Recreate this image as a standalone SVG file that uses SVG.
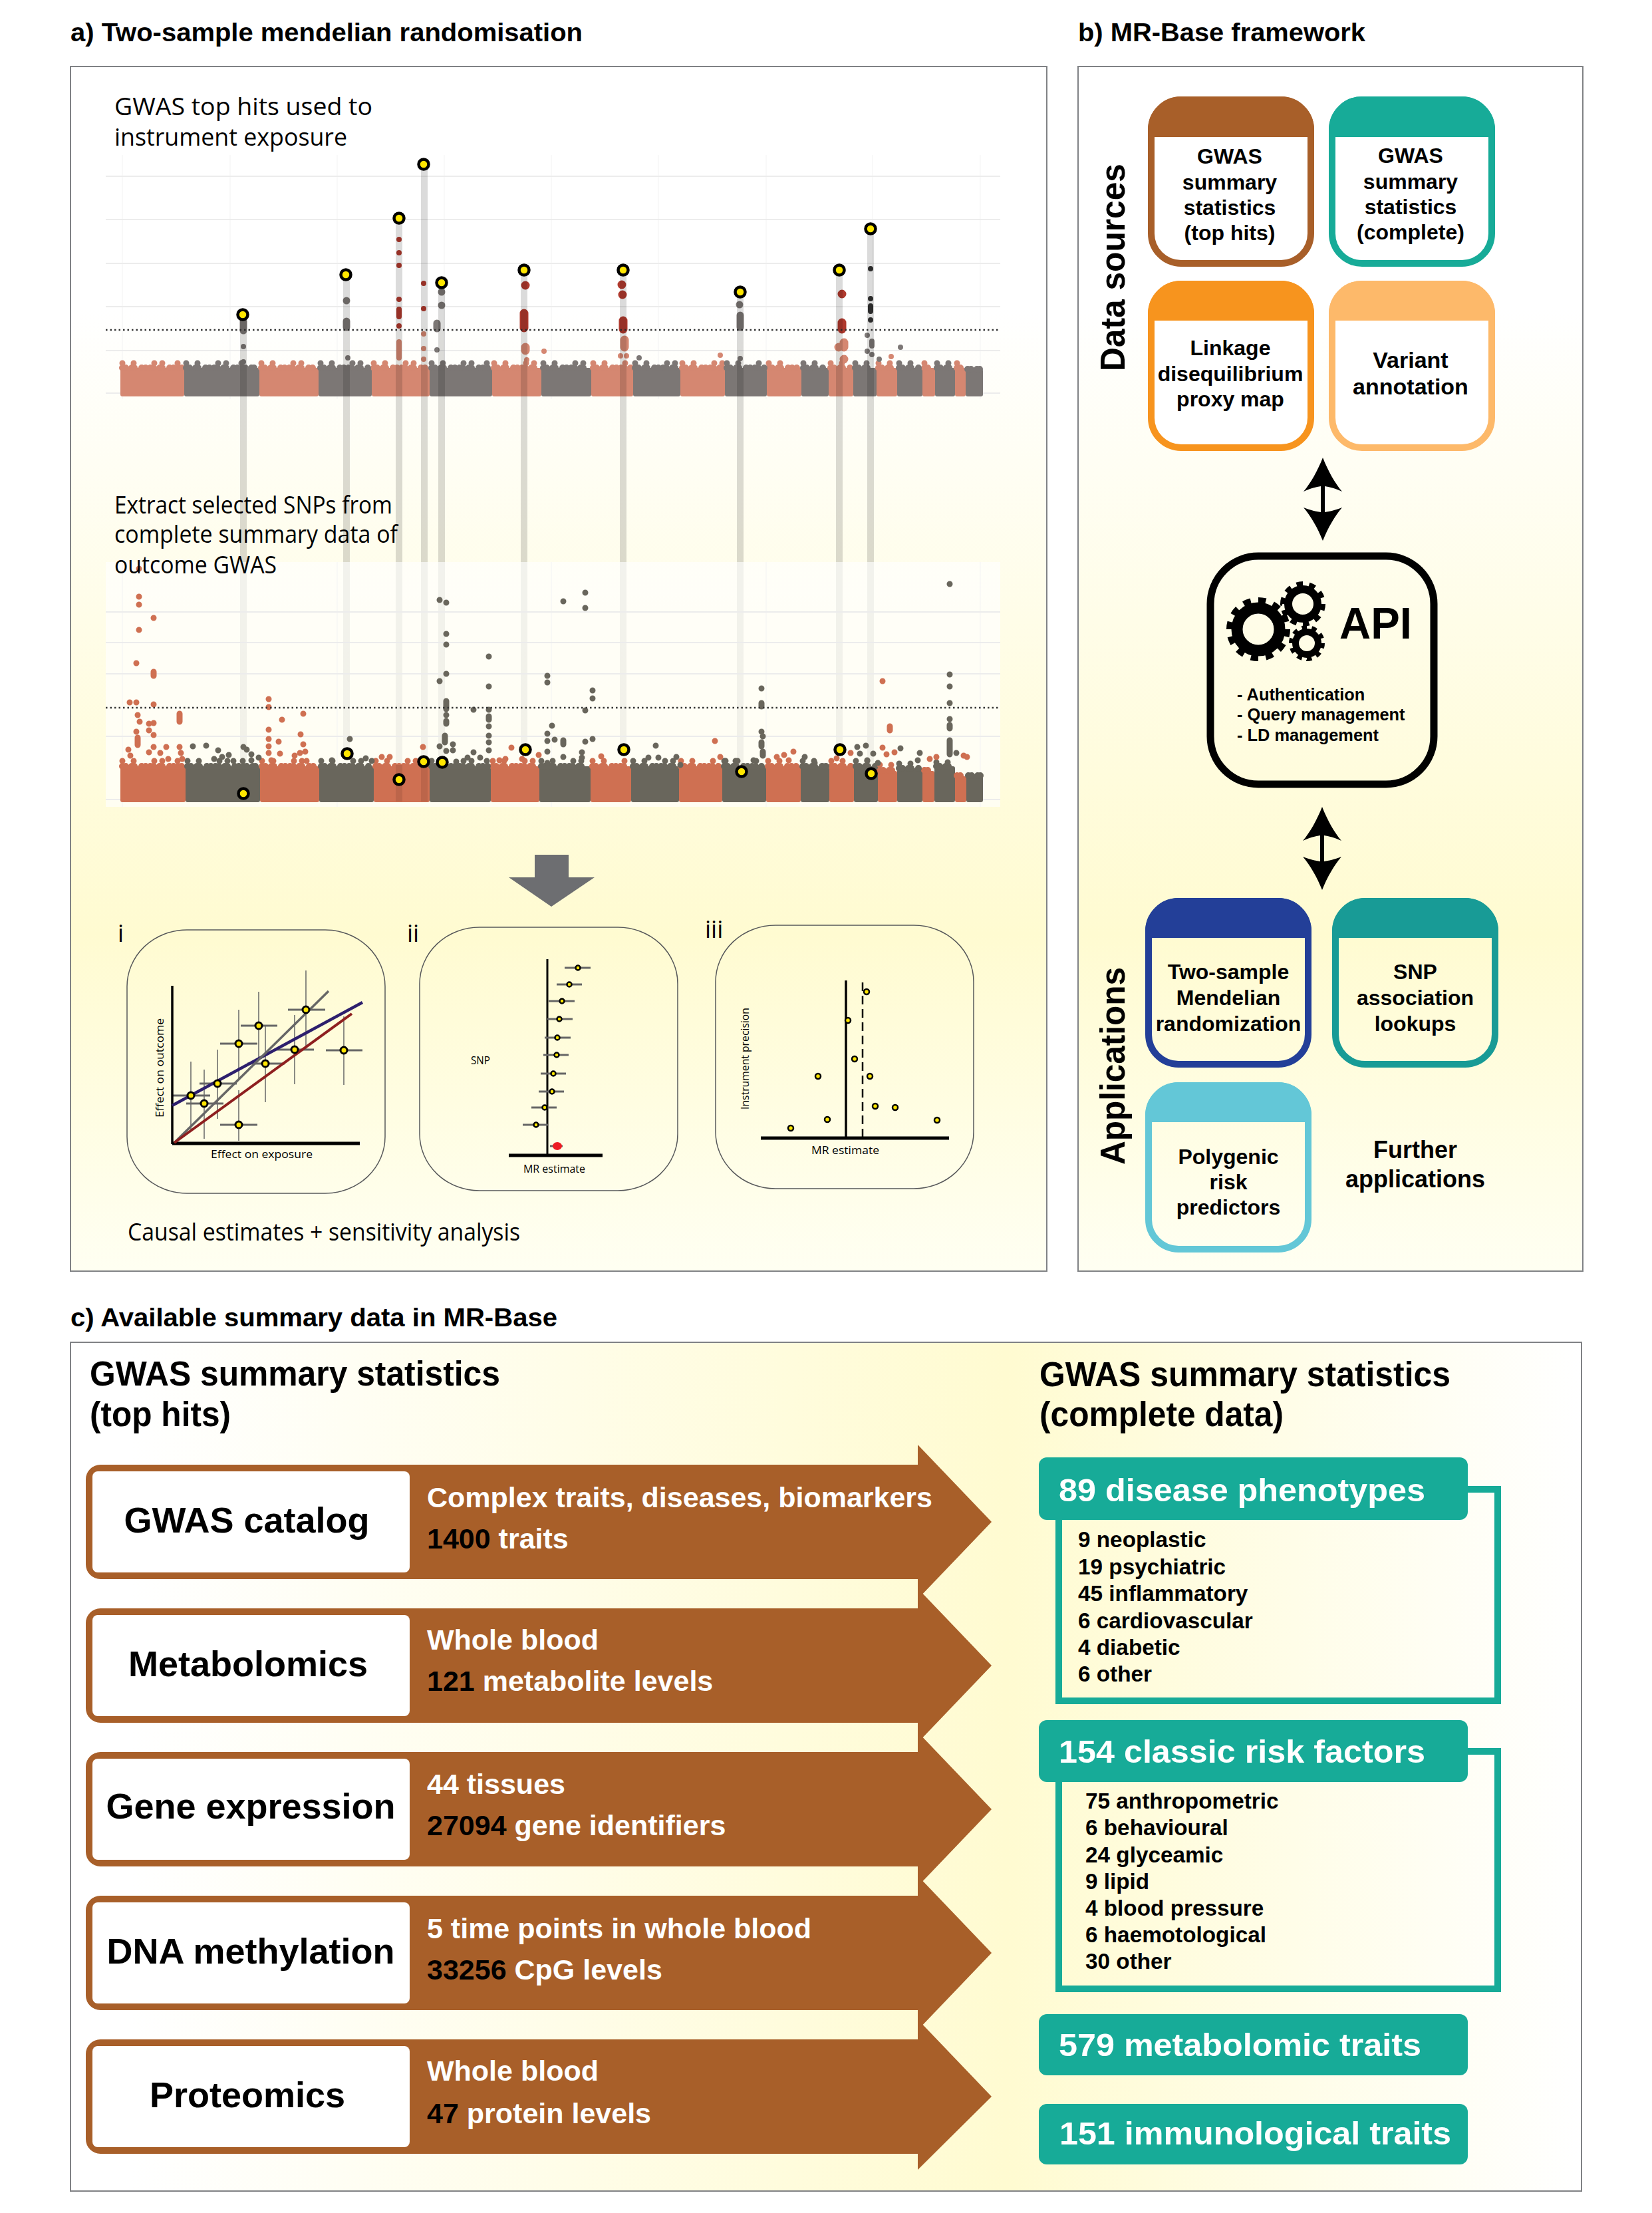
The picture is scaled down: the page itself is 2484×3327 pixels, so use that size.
<svg xmlns="http://www.w3.org/2000/svg" xmlns:xlink="http://www.w3.org/1999/xlink" width="2484" height="3327" viewBox="0 0 2484 3327">
<style>
text{font-family:"Liberation Sans",Arial,sans-serif;font-weight:700;fill:#000}
.t{font-size:39px}
.o{font-family:"Open Sans","Noto Sans",sans-serif;font-weight:400;font-size:36px}
.s{font-family:"Open Sans","Noto Sans",sans-serif;font-weight:400;font-size:17px}
.h{font-size:51px}
.n{font-size:32px;text-anchor:middle}
.l{font-size:54px;text-anchor:middle}
.w{font-size:43px;fill:#fff}
.b{fill:#000}
.g{font-size:48px;fill:#fff}
.li{font-size:33.3px}
.api{font-size:25.4px}
.v{font-size:52px}
.panel{stroke:#808285;stroke-width:2}
.dot{fill:none;stroke-linecap:round}
.grid{stroke:#ececec;stroke-width:2;fill:none}
.gridv{stroke:#f3f3f3;stroke-width:1;fill:none}
.dash{stroke:#333;stroke-width:2.5;stroke-dasharray:2.5 4;fill:none}
.d1{stroke-dasharray:0 5 0 9 0 4 0 11 0 6 0 7;stroke-width:10;fill:none;stroke-linecap:round}
.d2{stroke-dasharray:0 17 0 31 0 12 0 23 0 41;stroke-width:9;fill:none;stroke-linecap:round}
.ln{stroke:#000;stroke-opacity:.14;stroke-width:10;fill:none}
.y{fill:#ffe600;stroke:#000;stroke-width:4.5}
.ym{fill:#ffe600;stroke:#000;stroke-width:3}
.round{fill:none;stroke:#58595b;stroke-width:1.5}
.ax{stroke:#000;fill:none}
.eh{stroke:#666;stroke-width:3;fill:none}
.ev{stroke:#666;stroke-width:1.5;fill:none}
.frame{fill:none;stroke:#17ab98;stroke-width:10}
.teal{fill:#17ab98}
.arrow{fill:#a85f29}
</style>
<defs>
<linearGradient id="gv" x1="0" y1="0" x2="0" y2="1">
<stop offset="0" stop-color="#fff"/><stop offset=".2" stop-color="#fff"/><stop offset=".72" stop-color="#fffbd1"/><stop offset="1" stop-color="#fffff2"/>
</linearGradient>
<linearGradient id="gh" x1="0" y1="0" x2="1" y2="0">
<stop offset="0" stop-color="#fff"/><stop offset=".04" stop-color="#fff"/><stop offset=".62" stop-color="#fffbd1"/><stop offset="1" stop-color="#fff"/>
</linearGradient>
<path id="dbl" d="M0 0C-8 20-18 38-29 51C-18 46-10 44-3 43V82C-10 81-18 79-29 75C-18 88-8 105 0 125C8 105 18 88 29 75C18 79 10 81 3 82V43C10 44 18 46 29 51C18 38 8 20 0 0Z"/>
</defs>

<g id="titles">
<text class="t" x="106" y="62" textLength="770" lengthAdjust="spacingAndGlyphs">a) Two-sample mendelian randomisation</text>
<text class="t" x="1621" y="62" textLength="432" lengthAdjust="spacingAndGlyphs">b) MR-Base framework</text>
<text class="t" x="106" y="1994" textLength="732" lengthAdjust="spacingAndGlyphs">c) Available summary data in MR-Base</text>
</g>

<g id="panel-a">
<rect class="panel" x="106" y="100" width="1468" height="1811" fill="url(#gv)"/>
<path class="gridv" d="M184 233V600M346 233V600M507 233V600M668 233V600M829 233V600M990 233V600M1152 233V600M1312 233V600M1474 233V600"/>
<path class="grid" d="M159 265H1504M159 330H1504M159 396H1504M159 461H1504M159 527H1504M159 591H1504"/>
<path fill="#d58771" stroke="#d58771" stroke-width="6" stroke-linejoin="round" d="M184 556H274V593H184ZM393 556H476V593H393ZM562 556H643V593H562ZM743 556H811V593H743ZM892 556H949V593H892ZM1026 556H1087V593H1026ZM1156 556H1202V593H1156ZM1249 556H1280V593H1249ZM1321 556H1346V593H1321ZM1390 556H1403V593H1390ZM1439 556H1449V593H1439Z"/>
<path fill="#7c7775" stroke="#7c7775" stroke-width="6" stroke-linejoin="round" d="M280 556H387V593H280ZM482 556H556V593H482ZM649 556H737V593H649ZM817 556H886V593H817ZM955 556H1020V593H955ZM1093 556H1150V593H1093ZM1208 556H1243V593H1208ZM1286 556H1315V593H1286ZM1352 556H1384V593H1352ZM1409 556H1433V593H1409ZM1455 558H1475V593H1455Z"/>
<path class="d1" stroke="#d58771" d="M184 553H274M393 553H476M562 553H643M743 553H811M892 553H949M1026 553H1087M1156 553H1202M1249 553H1280M1321 553H1346M1390 553H1403M1439 553H1449"/>
<path class="d1" stroke="#7c7775" d="M280 553H387M482 553H556M649 553H737M817 553H886M955 553H1020M1093 553H1150M1208 553H1243M1286 553H1315M1352 553H1384M1409 553H1433M1455 555H1475"/>
<path class="d2" stroke="#d58771" d="M184 546H274M393 546H476M562 546H643M743 546H811M892 546H949M1026 546H1087M1156 546H1202M1249 546H1280M1321 546H1346M1390 546H1403M1439 546H1449"/>
<path class="d2" stroke="#7c7775" d="M280 546H387M482 546H556M649 546H737M817 546H886M955 546H1020M1093 546H1150M1208 546H1243M1286 546H1315M1352 546H1384M1409 546H1433"/>
<path class="dot" stroke="#7c7775" stroke-width="11" d="M366 483V497M521 452h0M521 483V492M664 439h0M664 459h0M657 486V494M1112 458h0M1113 474V492"/>
<path class="dot" stroke="#7c7775" stroke-width="8" d="M366 521h0M366 544h0M523 538h0M657 526h0M961 538h0M1113 539h0M1304 504h0M1311 513V520M1304 528h0M1311 533h0M1322 540h0M1354 522h0"/>
<path class="dot" stroke="#b03a2e" stroke-width="8" d="M600 360h0M600 380h0M600 399h0M600 450h0M600 465V476M600 490h0M637 426h0M637 464h0"/>
<path class="dot" stroke="#b03a2e" stroke-width="13" d="M790 429h0M788 471V493M935 428h0M936 443h0M937 482V495M1266 442h0M1266 485V495"/>
<path class="dot" stroke="#d58771" stroke-width="8" d="M600 514V538M637 502h0M637 524h0M637 540h0M818 528h0M792 541h0M1083 534h0M1340 536h0M933 535h0M942 535h0"/>
<path class="dot" stroke="#d58771" stroke-width="13" d="M790 522V527M939 511V522M1269 515V522M1261 522h0M1269 540h0"/>
<path class="dot" stroke="#333" stroke-width="8" d="M1309 404h0M1309 449h0M1309 460V468M1309 481h0"/>
<path class="dash" d="M159 496H1504"/>
<path class="ln" d="M366 473V1193M521 413V1133M600 328V1172M638 247V1205M664 425V1146M788 406V1127M937 406V1127M1113 439V1160M1262 406V1127M1309 344V1163"/>
<rect x="159" y="845" width="1345" height="368" fill="#fff" fill-opacity=".65"/>
<path class="gridv" d="M184 845V1213M507 845V1213M829 845V1213M1152 845V1213M1474 845V1213"/>
<path class="grid" d="M159 920H1504M159 966H1504M159 1013H1504M159 1107H1504M159 1202H1504"/>
<path fill="#cf7052" stroke="#cf7052" stroke-width="6" stroke-linejoin="round" d="M184 1155H276V1203H184ZM394 1155H477V1203H394ZM565 1155H643V1203H565ZM741 1155H808V1203H741ZM891 1155H946V1203H891ZM1024 1155H1083V1203H1024ZM1155 1155H1201V1203H1155ZM1250 1155H1281V1203H1250ZM1323 1162H1346V1203H1323ZM1390 1162H1402V1203H1390ZM1439 1170H1450V1203H1439Z"/>
<path fill="#69665c" stroke="#69665c" stroke-width="6" stroke-linejoin="round" d="M282 1155H388V1203H282ZM483 1155H559V1203H483ZM649 1155H735V1203H649ZM814 1155H885V1203H814ZM952 1155H1018V1203H952ZM1089 1155H1149V1203H1089ZM1207 1155H1244V1203H1207ZM1287 1155H1317V1203H1287ZM1352 1158H1384V1203H1352ZM1408 1155H1433V1203H1408ZM1456 1170H1475V1203H1456Z"/>
<path class="d1" stroke="#cf7052" stroke-width="9" d="M184 1152H276M394 1152H477M565 1152H643M741 1152H808M891 1152H946M1024 1152H1083M1155 1152H1201M1250 1152H1281M1323 1158H1346M1390 1158H1402M1439 1166H1450"/>
<path class="d1" stroke="#69665c" stroke-width="9" d="M282 1152H388M483 1152H559M649 1152H735M814 1152H885M952 1152H1018M1089 1152H1149M1207 1152H1244M1287 1152H1317M1352 1155H1384M1408 1152H1433M1456 1166H1475"/>
<path class="d2" stroke="#cf7052" d="M184 1144H276M394 1144H477M565 1144H643M741 1144H808M891 1144H946M1024 1144H1083M1155 1144H1201M1250 1144H1281M1323 1150H1346"/>
<path class="d2" stroke="#69665c" d="M282 1144H388M483 1144H559M649 1144H735M814 1144H885M952 1144H1018M1089 1144H1149M1207 1144H1244M1287 1144H1317M1352 1148H1384M1408 1146H1433"/>
<path class="dot" stroke="#cf7052" stroke-width="9" d="M209 855h0M209 897h0M209 909h0M231 929h0M209 947h0M205 997h0M231 1010V1016M195 1056h0M205 1056h0M231 1059h0M404 1051h0M404 1063h0M270 1073V1085M207 1075h0M210 1085h0M224 1088h0M231 1087h0M424 1082h0M456 1073h0M404 1097h0M205 1100h0M224 1098h0M231 1105h0M452 1104h0M404 1111h0M419 1115h0M456 1119h0M404 1122h0M207 1109V1120M193 1127h0M231 1123h0M250 1123h0M270 1123h0M241 1132h0M224 1131h0M272 1132h0M196 1136h0M459 1130h0M451 1132h0M421 1133h0M404 1132h0M443 1136h0M408 1143h0M461 1144h0M253 1141h0M274 1141h0M574 1138h0M586 1138h0M636 1123h0M769 1124h0M810 1135h0M785 1141h0M751 1143h0M760 1141h0M904 1137h0M1075 1114h0M1083 1138h0M1193 1130h0M1179 1135h0M1168 1138h0M1186 1143h0M1327 1024h0M1338 1092V1098M1327 1124h0M1333 1134h0M1345 1131h0M1279 1132h0M1258 1140h0M1398 1141h0M1408 1138h0M1449 1136h0M1454 1138h0"/>
<path class="dot" stroke="#69665c" stroke-width="9" d="M290 1122h0M310 1121h0M328 1128h0M344 1135h0M334 1138h0M366 1123h0M371 1127h0M378 1134h0M389 1139h0M351 1144h0M378 1143h0M322 1141h0M526 1111h0M499 1143h0M550 1140h0M559 1144h0M661 902h0M671 906h0M671 953h0M671 969h0M735 987h0M671 1013h0M661 1024h0M735 1032h0M671 1054V1066M712 1067h0M735 1067h0M735 1077V1082M671 1075h0M671 1084V1088M735 1092h0M735 1106h0M735 1116h0M735 1128h0M669 1106V1116M661 1122h0M681 1119h0M681 1128h0M671 1129h0M712 1131h0M722 1139h0M703 1139h0M686 1145h0M847 904h0M880 891h0M880 914h0M823 1016h0M823 1026h0M891 1038h0M891 1050h0M880 1068h0M830 1091h0M823 1103h0M847 1113V1119M834 1112h0M823 1114h0M880 1115h0M891 1111h0M823 1130h0M875 1131h0M847 1138h0M875 1139h0M823 1147h0M986 1121h0M975 1139h0M990 1139h0M1017 1138h0M1023 1150h0M1091 1144h0M1109 1144h0M1145 1035h0M1145 1057V1062M1145 1100h0M1147 1107h0M1145 1116V1122M1147 1130V1136M1133 1143h0M1210 1138h0M1225 1147h0M1239 1152h0M1289 1123h0M1302 1121h0M1293 1133h0M1313 1133h0M1354 1125h0M1383 1132h0M1304 1143h0M1320 1147h0M1428 878h0M1428 1014h0M1428 1032h0M1428 1057h0M1428 1081h0M1428 1090V1095M1428 1113V1134M1438 1132h0M1380 1143h0"/>
<path class="dash" stroke="#444" d="M159 1064H1504"/>
<path stroke="#000" stroke-opacity=".09" stroke-width="10" d="M600 1150V1205M638 1150V1205"/>
<circle class="y" cx="365" cy="473" r="7.5"/><circle class="y" cx="520" cy="413" r="7.5"/><circle class="y" cx="600" cy="328" r="7.5"/><circle class="y" cx="637" cy="247" r="7.5"/><circle class="y" cx="664" cy="425" r="7.5"/><circle class="y" cx="788" cy="406" r="7.5"/><circle class="y" cx="937" cy="406" r="7.5"/><circle class="y" cx="1113" cy="439" r="7.5"/><circle class="y" cx="1262" cy="406" r="7.5"/><circle class="y" cx="1309" cy="344" r="7.5"/>
<circle class="y" cx="366" cy="1193" r="7.5"/><circle class="y" cx="522" cy="1133" r="7.5"/><circle class="y" cx="600" cy="1172" r="7.5"/><circle class="y" cx="637" cy="1145" r="7.5"/><circle class="y" cx="665" cy="1146" r="7.5"/><circle class="y" cx="790" cy="1127" r="7.5"/><circle class="y" cx="938" cy="1127" r="7.5"/><circle class="y" cx="1115" cy="1160" r="7.5"/><circle class="y" cx="1263" cy="1127" r="7.5"/><circle class="y" cx="1310" cy="1163" r="7.5"/>
<text class="o" x="172" y="173" textLength="388" lengthAdjust="spacingAndGlyphs">GWAS top hits used to</text>
<text class="o" x="172" y="219" textLength="350" lengthAdjust="spacingAndGlyphs">instrument exposure</text>
<text class="o" x="172" y="772" textLength="418" lengthAdjust="spacingAndGlyphs">Extract selected SNPs from</text>
<text class="o" x="172" y="816" textLength="426" lengthAdjust="spacingAndGlyphs">complete summary data of</text>
<text class="o" x="172" y="862" textLength="244" lengthAdjust="spacingAndGlyphs">outcome GWAS</text>
<path id="down-arrow" fill="#6d6e71" d="M804 1285H855V1319H894L829 1363L765 1319H804Z"/>
<text class="o" x="177" y="1416">i</text><text class="o" x="612" y="1416">ii</text><text class="o" x="1060" y="1410">iii</text>
<rect class="round" x="191" y="1398" width="388" height="396" rx="90" ry="85"/>
<rect class="round" x="631" y="1394" width="388" height="396" rx="90" ry="85"/>
<rect class="round" x="1076" y="1391" width="388" height="396" rx="90" ry="85"/>
<path class="ev" d="M287 1596V1698M307 1608V1712M327 1578V1682M359 1518V1622M359 1639V1715M389 1491V1595M399 1542V1657M443 1526V1630M460 1459V1579M517 1528V1631"/>
<path class="eh" d="M259 1647H316M280 1659H336M300 1629H356M331 1569H387M331 1691H387M362 1542H417M372 1599H428M416 1578H472M433 1518H489M490 1579H545"/>
<path class="ax" stroke-width="3.5" d="M259 1482V1720"/>
<path class="ax" stroke-width="5" d="M259 1719H541"/>
<path stroke="#2d1f6d" stroke-width="4.5" d="M259 1662L545 1507"/>
<path stroke="#666" stroke-width="3.5" d="M262 1718L494 1490"/>
<path stroke="#8e1f1f" stroke-width="4" d="M262 1718L529 1524"/>
<circle class="ym" cx="287" cy="1647" r="5"/><circle class="ym" cx="307" cy="1659" r="5"/><circle class="ym" cx="327" cy="1629" r="5"/><circle class="ym" cx="359" cy="1569" r="5"/><circle class="ym" cx="359" cy="1691" r="5"/><circle class="ym" cx="389" cy="1542" r="5"/><circle class="ym" cx="399" cy="1599" r="5"/><circle class="ym" cx="443" cy="1578" r="5"/><circle class="ym" cx="460" cy="1518" r="5"/><circle class="ym" cx="517" cy="1579" r="5"/>
<text class="s" transform="translate(246 1680) rotate(-90)" textLength="149" lengthAdjust="spacingAndGlyphs">Effect on outcome</text>
<text class="s" x="317" y="1741" textLength="153" lengthAdjust="spacingAndGlyphs">Effect on exposure</text>
<path class="ax" stroke-width="3" d="M823 1442V1735"/>
<path class="ax" stroke-width="5" d="M765 1737H906"/>
<path class="eh" d="M849 1455H888M837 1480H875M825 1505H864M823 1532H861M819 1560H858M817 1586H855M813 1614H851M810 1641H848M799 1665H837M786 1691H824M827 1723H846"/>
<g class="ym" style="stroke-width:2.5"><circle cx="869" cy="1455" r="3.5"/><circle cx="856" cy="1480" r="3.5"/><circle cx="845" cy="1505" r="3.5"/><circle cx="841" cy="1532" r="3.5"/><circle cx="838" cy="1560" r="3.5"/><circle cx="837" cy="1586" r="3.5"/><circle cx="832" cy="1614" r="3.5"/><circle cx="830" cy="1641" r="3.5"/><circle cx="819" cy="1665" r="3.5"/><circle cx="806" cy="1691" r="3.5"/></g>
<ellipse cx="838" cy="1723" rx="7" ry="6" fill="#ed1c24"/>
<text class="s" x="708" y="1600" textLength="29" lengthAdjust="spacingAndGlyphs">SNP</text>
<text class="s" x="787" y="1763" textLength="93" lengthAdjust="spacingAndGlyphs">MR estimate</text>
<path class="ax" stroke-width="3.5" d="M1272 1474V1711"/>
<path class="ax" stroke-width="5" d="M1144 1711H1427"/>
<path class="ax" stroke-width="2.5" stroke-dasharray="13 7" d="M1297 1477V1712"/>
<g class="ym" style="stroke-width:2.5"><circle cx="1303" cy="1491" r="4"/><circle cx="1275" cy="1534" r="4"/><circle cx="1285" cy="1592" r="4"/><circle cx="1230" cy="1618" r="4"/><circle cx="1308" cy="1618" r="4"/><circle cx="1316" cy="1663" r="4"/><circle cx="1346" cy="1665" r="4"/><circle cx="1244" cy="1683" r="4"/><circle cx="1409" cy="1684" r="4"/><circle cx="1189" cy="1696" r="4"/></g>
<text class="s" transform="translate(1126 1668) rotate(-90)" textLength="153" lengthAdjust="spacingAndGlyphs">Instrument precision</text>
<text class="s" x="1220" y="1735" textLength="102" lengthAdjust="spacingAndGlyphs">MR estimate</text>
<text class="o" x="192" y="1865" textLength="590" lengthAdjust="spacingAndGlyphs">Causal estimates + sensitivity analysis</text>
</g>

<g id="panel-b">
<rect class="panel" x="1621" y="100" width="759" height="1811" fill="url(#gv)"/>
<text class="v" transform="translate(1691 558) rotate(-90)" textLength="312" lengthAdjust="spacingAndGlyphs">Data sources</text>
<text class="v" transform="translate(1691 1751) rotate(-90)" textLength="297" lengthAdjust="spacingAndGlyphs">Applications</text>
</g>
<g id="node-top-hits">
<rect x="1731" y="150" width="240" height="246" rx="45" fill="#fff" stroke="#a85f29" stroke-width="10"/>
<path fill="#a85f29" d="M1726 206V195A50 50 0 0 1 1776 145H1926A50 50 0 0 1 1976 195V206Z"/>
<text class="n" x="1849" y="246">GWAS</text><text class="n" x="1849" y="285">summary</text><text class="n" x="1849" y="323">statistics</text><text class="n" x="1849" y="361">(top hits)</text>
</g>
<g id="node-complete">
<rect x="2003" y="150" width="240" height="246" rx="45" fill="#fff" stroke="#17ab98" stroke-width="10"/>
<path fill="#17ab98" d="M1998 206V195A50 50 0 0 1 2048 145H2198A50 50 0 0 1 2248 195V206Z"/>
<text class="n" x="2121" y="245">GWAS</text><text class="n" x="2121" y="284">summary</text><text class="n" x="2121" y="322">statistics</text><text class="n" x="2121" y="360">(complete)</text>
</g>
<g id="node-ld">
<rect x="1731" y="427" width="240" height="246" rx="45" fill="#fff" stroke="#f7941e" stroke-width="10"/>
<path fill="#f7941e" d="M1726 482V472A50 50 0 0 1 1776 422H1926A50 50 0 0 1 1976 472V482Z"/>
<text class="n" x="1850" y="534">Linkage</text><text class="n" x="1850" y="573">disequilibrium</text><text class="n" x="1850" y="611">proxy map</text>
</g>
<g id="node-variant">
<rect x="2003" y="427" width="240" height="246" rx="45" fill="#fff" stroke="#fdb96a" stroke-width="10"/>
<path fill="#fdb96a" d="M1998 482V472A50 50 0 0 1 2048 422H2198A50 50 0 0 1 2248 472V482Z"/>
<text class="n" style="font-size:34px" x="2121" y="553">Variant</text><text class="n" style="font-size:34px" x="2121" y="593">annotation</text>
</g>
<g id="node-api">
<rect x="1820" y="836" width="336" height="343" rx="72" fill="none" stroke="#000" stroke-width="11"/>
<g fill="none" stroke="#000">
<circle cx="1892" cy="946" r="32" stroke-width="17"/>
<circle cx="1892" cy="946" r="43" stroke-width="10" pathLength="24" stroke-dasharray="1 1"/>
<circle cx="1959" cy="908" r="22" stroke-width="12"/>
<circle cx="1959" cy="908" r="30.5" stroke-width="7" pathLength="20" stroke-dasharray="1 1"/>
<circle cx="1965" cy="967" r="17" stroke-width="10"/>
<circle cx="1965" cy="967" r="24" stroke-width="6" pathLength="20" stroke-dasharray="1 1"/>
</g>
<text x="2014" y="960" style="font-size:66px" textLength="109" lengthAdjust="spacingAndGlyphs">API</text>
<text class="api" x="1860" y="1053">- Authentication</text>
<text class="api" x="1860" y="1083">- Query management</text>
<text class="api" x="1860" y="1114">- LD management</text>
</g>
<g id="node-two-sample">
<rect x="1727" y="1355" width="240" height="245" rx="45" fill="none" stroke="#233f98" stroke-width="10"/>
<path fill="#233f98" d="M1722 1410V1400A50 50 0 0 1 1772 1350H1922A50 50 0 0 1 1972 1400V1410Z"/>
<text class="n" x="1847" y="1472">Two-sample</text><text class="n" x="1847" y="1511">Mendelian</text><text class="n" x="1847" y="1550">randomization</text>
</g>
<g id="node-snp">
<rect x="2008" y="1355" width="240" height="245" rx="45" fill="none" stroke="#189b96" stroke-width="10"/>
<path fill="#189b96" d="M2003 1410V1400A50 50 0 0 1 2053 1350H2203A50 50 0 0 1 2253 1400V1410Z"/>
<text class="n" x="2128" y="1472">SNP</text><text class="n" x="2128" y="1511">association</text><text class="n" x="2128" y="1550">lookups</text>
</g>
<g id="node-polygenic">
<rect x="1727" y="1632" width="240" height="246" rx="45" fill="none" stroke="#63c7d7" stroke-width="10"/>
<path fill="#63c7d7" d="M1722 1687V1677A50 50 0 0 1 1772 1627H1922A50 50 0 0 1 1972 1677V1687Z"/>
<text class="n" x="1847" y="1750">Polygenic</text><text class="n" x="1847" y="1788">risk</text><text class="n" x="1847" y="1826">predictors</text>
</g>
<g id="node-further">
<text class="n" style="font-size:36px" x="2128" y="1741">Further</text><text class="n" style="font-size:36px" x="2128" y="1785">applications</text>
</g>
<g id="connectors">
<use xlink:href="#dbl" href="#dbl" transform="translate(1989 688)"/>
<use xlink:href="#dbl" href="#dbl" transform="translate(1988 1213)"/>
</g>

<g id="panel-c">
<rect class="panel" x="106" y="2018" width="2272" height="1276" fill="url(#gh)"/>
<text class="h" x="135" y="2083" textLength="617" lengthAdjust="spacingAndGlyphs">GWAS summary statistics</text>
<text class="h" x="135" y="2144" textLength="212" lengthAdjust="spacingAndGlyphs">(top hits)</text>
<text class="h" x="1563" y="2084" textLength="618" lengthAdjust="spacingAndGlyphs">GWAS summary statistics</text>
<text class="h" x="1563" y="2144" textLength="367" lengthAdjust="spacingAndGlyphs">(complete data)</text>
</g>
<g id="row-gwas-catalog">
<path class="arrow" d="M151 2202H1380V2172L1491 2288L1380 2404V2374H151A22 22 0 0 1 129 2352V2224A22 22 0 0 1 151 2202Z"/>
<rect x="139" y="2212" width="477" height="152" rx="8" fill="#fff"/>
<text class="l" x="371" y="2304">GWAS catalog</text>
<text class="w" x="642" y="2266">Complex traits, diseases, biomarkers</text>
<text class="w" x="642" y="2328"><tspan class="b">1400</tspan> traits</text>
</g>
<g id="row-metabolomics">
<path class="arrow" d="M151 2418H1380V2388L1491 2504L1380 2620V2590H151A22 22 0 0 1 129 2568V2440A22 22 0 0 1 151 2418Z"/>
<rect x="139" y="2428" width="477" height="152" rx="8" fill="#fff"/>
<text class="l" x="373" y="2520">Metabolomics</text>
<text class="w" x="642" y="2480">Whole blood</text>
<text class="w" x="642" y="2542"><tspan class="b">121</tspan> metabolite levels</text>
</g>
<g id="row-gene-expression">
<path class="arrow" d="M151 2634H1380V2604L1491 2720L1380 2836V2806H151A22 22 0 0 1 129 2784V2656A22 22 0 0 1 151 2634Z"/>
<rect x="139" y="2644" width="477" height="152" rx="8" fill="#fff"/>
<text class="l" x="377" y="2734">Gene expression</text>
<text class="w" x="642" y="2697">44 tissues</text>
<text class="w" x="642" y="2759"><tspan class="b">27094</tspan> gene identifiers</text>
</g>
<g id="row-dna-methylation">
<path class="arrow" d="M151 2850H1380V2820L1491 2936L1380 3052V3022H151A22 22 0 0 1 129 3000V2872A22 22 0 0 1 151 2850Z"/>
<rect x="139" y="2860" width="477" height="152" rx="8" fill="#fff"/>
<text class="l" x="377" y="2952">DNA methylation</text>
<text class="w" x="642" y="2914">5 time points in whole blood</text>
<text class="w" x="642" y="2976"><tspan class="b">33256</tspan> CpG levels</text>
</g>
<g id="row-proteomics">
<path class="arrow" d="M151 3066H1380V3036L1491 3152L1380 3262V3238H151A22 22 0 0 1 129 3216V3088A22 22 0 0 1 151 3066Z"/>
<rect x="139" y="3076" width="477" height="152" rx="8" fill="#fff"/>
<text class="l" x="372" y="3168">Proteomics</text>
<text class="w" x="642" y="3128">Whole blood</text>
<text class="w" x="642" y="3192"><tspan class="b">47</tspan> protein levels</text>
</g>
<g id="node-disease">
<path class="frame" d="M2207 2239H2252V2557H1592V2285"/>
<rect class="teal" x="1562" y="2191" width="645" height="94" rx="12"/>
<text class="g" x="1592" y="2257" textLength="551" lengthAdjust="spacingAndGlyphs">89 disease phenotypes</text>
<text class="li" x="1621" y="2326">9 neoplastic</text><text class="li" x="1621" y="2367">19 psychiatric</text><text class="li" x="1621" y="2407">45 inflammatory</text><text class="li" x="1621" y="2448">6 cardiovascular</text><text class="li" x="1621" y="2488">4 diabetic</text><text class="li" x="1621" y="2528">6 other</text>
</g>
<g id="node-risk">
<path class="frame" d="M2207 2633H2252V2990H1592V2679"/>
<rect class="teal" x="1562" y="2586" width="645" height="93" rx="12"/>
<text class="g" x="1592" y="2650" textLength="551" lengthAdjust="spacingAndGlyphs">154 classic risk factors</text>
<text class="li" x="1632" y="2719">75 anthropometric</text><text class="li" x="1632" y="2759">6 behavioural</text><text class="li" x="1632" y="2800">24 glyceamic</text><text class="li" x="1632" y="2840">9 lipid</text><text class="li" x="1632" y="2880">4 blood pressure</text><text class="li" x="1632" y="2920">6 haemotological</text><text class="li" x="1632" y="2960">30 other</text>
</g>
<g id="node-metabolomic">
<rect class="teal" x="1562" y="3028" width="645" height="92" rx="12"/>
<text class="g" x="1592" y="3091" textLength="545" lengthAdjust="spacingAndGlyphs">579 metabolomic traits</text>
</g>
<g id="node-immunological">
<rect class="teal" x="1562" y="3163" width="645" height="91" rx="12"/>
<text class="g" x="1593" y="3224" textLength="589" lengthAdjust="spacingAndGlyphs">151 immunological traits</text>
</g>
</svg>
